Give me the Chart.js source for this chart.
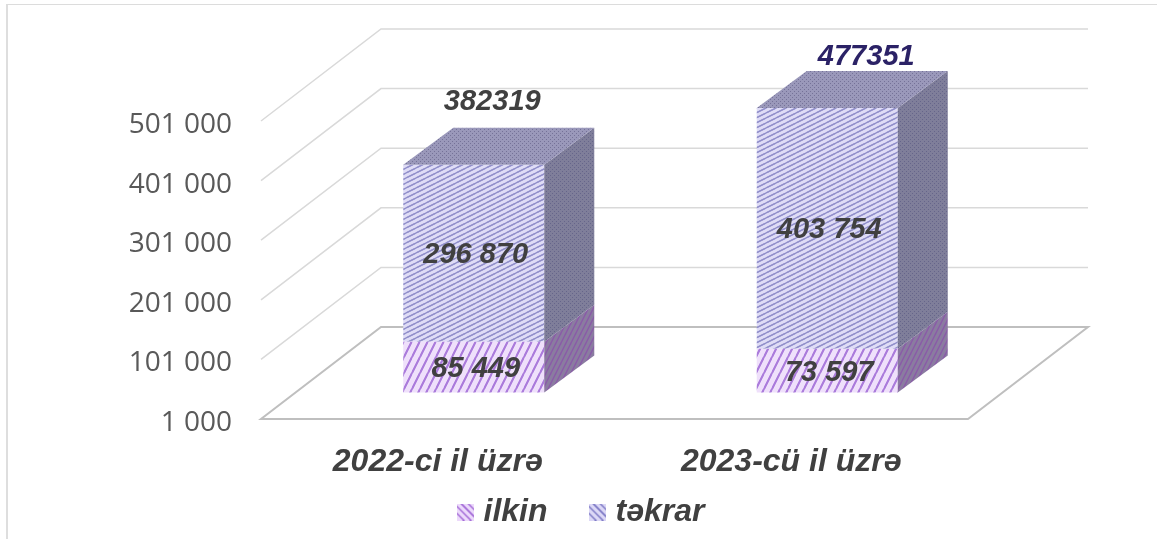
<!DOCTYPE html>
<html><head><meta charset="utf-8">
<style>html,body{margin:0;padding:0;background:#fff;overflow:hidden}
#wrap{position:absolute;left:0;top:0;width:1157px;height:539px;overflow:hidden}
#frame{position:absolute;left:6px;top:4px;width:1151px;height:540px;border-left:2px solid #dedede;border-top:1.5px solid #dcdcdc;box-sizing:border-box}
canvas{position:absolute;left:0;top:0}</style>
<script src="https://cdn.jsdelivr.net/npm/chart.js@4/dist/chart.umd.min.js"></script>
</head><body><div id="wrap"><div id="frame"></div><canvas id="c" width="1157" height="539"></canvas></div>
<script>
const categories = ["2022-ci il üzrə", "2023-cü il üzrə"];
const seriesNames = ["ilkin", "təkrar"];
const ilkin = [85449, 73597];
const tekrar = [296870, 403754];
const totals = [382319, 477351];
const yTicks = [1000, 101000, 201000, 301000, 401000, 501000];

const fmt = v => String(v).replace(/\B(?=(\d{3})+$)/g, " ");
function tile(w, h, bg, fg, lw, segs) {
  const c = document.createElement("canvas"); c.width = w; c.height = h;
  const g = c.getContext("2d"); g.fillStyle = bg; g.fillRect(0, 0, w, h);
  g.strokeStyle = fg; g.lineWidth = lw;
  segs.forEach(s => { g.beginPath(); g.moveTo(s[0], s[1]); g.lineTo(s[2], s[3]); g.stroke(); });
  return c;
}
function dots(w, h, bg, fg) {
  const c = document.createElement("canvas"); c.width = w; c.height = h;
  const g = c.getContext("2d"); g.fillStyle = bg; g.fillRect(0, 0, w, h);
  g.fillStyle = fg; g.fillRect(0, 0, 1, 1); g.fillRect(2, 2, 1, 1);
  return c;
}
const ctx0 = document.getElementById("c").getContext("2d");
const pat = (c) => ctx0.createPattern(c, "repeat");
const blueFront = pat(tile(10, 5, "#dfdcf6", "#9290cb", 1.3, [[-10,5,10,-5],[0,5,10,0],[-10,10,10,0],[0,10,20,0]]));
const pinkFront = pat(tile(8, 16, "#efe0fb", "#ab7bdb", 1.8, [[-8,16,8,-16],[0,16,8,0],[0,32,16,0],[-8,32,16,-16]]));
const blueTop = pat(dots(4, 4, "#9a98ba", "#757298"));
const blueSide = pat(dots(4, 4, "#7f7e9a", "#66658a"));
const pinkSide = pat(tile(5, 10, "#8a7ca0", "#8a5aa8", 1.4, [[-5,10,5,-10],[0,10,5,0],[0,20,10,0]]));
function swatch(bg, fg) {
  return tile(17, 17, bg, fg, 1.5, [[-3,0,17,20],[-10,0,10,20],[4,0,24,20],[-3,-7,17,13],[4,-7,24,13]]);
}
const swatches = [swatch("#ecd9fb", "#a46cd8"), swatch("#dcd8f6", "#7f7bc6")];

const WALL = {dx: 120, dy: -92}, DEPTH = {dx: 50, dy: -37}, SHIFT = {dx: 36, dy: -27};
const frontFont = "italic bold 29px 'Liberation Sans'";
const labelColor = "#404040";
const totalStyle = [{dx: 18.5, dy: -63, color: "#404040"}, {dx: 39, dy: -51, color: "#2b2266"}];
const legendAt = {x: 584, top: 448};
const tickNudge = 4;

function poly(ctx, pts, fill) {
  ctx.beginPath(); pts.forEach((p, i) => i ? ctx.lineTo(p[0], p[1]) : ctx.moveTo(p[0], p[1]));
  ctx.closePath(); ctx.fillStyle = fill; ctx.fill();
}
const box3d = {
  id: "box3d",
  beforeDatasetsDraw(chart) {
    const {ctx, chartArea: a, scales: {y}} = chart;
    ctx.save();
    ctx.lineWidth = 1.5; ctx.strokeStyle = "#d9d9d9";
    yTicks.slice(1).forEach(v => {
      const p = y.getPixelForValue(v);
      ctx.beginPath(); ctx.moveTo(a.left, p); ctx.lineTo(a.left + WALL.dx, p + WALL.dy);
      ctx.lineTo(a.right + WALL.dx, p + WALL.dy); ctx.stroke();
    });
    const b = y.getPixelForValue(yTicks[0]);
    ctx.lineWidth = 2; ctx.strokeStyle = "#bfbfbf";
    ctx.beginPath(); ctx.moveTo(a.left, b); ctx.lineTo(a.right, b);
    ctx.lineTo(a.right + WALL.dx, b + WALL.dy); ctx.lineTo(a.left + WALL.dx, b + WALL.dy);
    ctx.closePath(); ctx.stroke();
    ctx.restore();
    ctx.save(); ctx.translate(SHIFT.dx, SHIFT.dy);
  },
  afterDatasetsDraw(chart) {
    const {ctx} = chart;
    const sides = [pinkSide, blueSide];
    chart.data.datasets.forEach((ds, di) => {
      chart.getDatasetMeta(di).data.forEach((el) => {
        const {x, y, base, width} = el.getProps(["x", "y", "base", "width"], true);
        const r = x + width / 2, l = x - width / 2;
        poly(ctx, [[r, y], [r + DEPTH.dx, y + DEPTH.dy], [r + DEPTH.dx, base + DEPTH.dy], [r, base]], sides[di]);
        if (di === chart.data.datasets.length - 1)
          poly(ctx, [[l, y], [l + DEPTH.dx, y + DEPTH.dy], [r + DEPTH.dx, y + DEPTH.dy], [r, y]], blueTop);
      });
    });
    ctx.restore();
    ctx.save();
    ctx.font = frontFont; ctx.textAlign = "center"; ctx.textBaseline = "middle";
    chart.data.datasets.forEach((ds, di) => {
      chart.getDatasetMeta(di).data.forEach((el, i) => {
        const {x, y, base} = el.getProps(["x", "y", "base"], true);
        ctx.fillStyle = labelColor;
        ctx.fillText(fmt(ds.data[i]), x + SHIFT.dx + 2, (y + base) / 2 + SHIFT.dy + 2);
        if (di === chart.data.datasets.length - 1) {
          const t = totalStyle[i];
          ctx.fillStyle = t.color;
          ctx.fillText(String(totals[i]), x + SHIFT.dx + t.dx, y + SHIFT.dy + t.dy);
        }
      });
    });
    ctx.restore();
  },
  afterLayout(chart) {
    const lg = chart.legend, dx = legendAt.x - (lg.left + lg.right) / 2, h = lg.bottom - lg.top;
    lg.left += dx; lg.right += dx; lg.top = legendAt.top; lg.bottom = legendAt.top + h;
    chart.scales.y.getLabelItems(chart.chartArea).forEach(it => { it.textOffset += tickNudge; });
  }
};

new Chart(document.getElementById("c"), {
  type: "bar",
  data: {labels: categories, datasets: [
    {label: seriesNames[0], data: ilkin, backgroundColor: pinkFront, stack: "s", clip: false},
    {label: seriesNames[1], data: tekrar, backgroundColor: blueFront, stack: "s", clip: false}
  ]},
  plugins: [box3d],
  options: {
    responsive: false, animation: false, events: [],
    layout: {padding: {left: 0, right: 189, top: 121, bottom: -40}},
    datasets: {bar: {categoryPercentage: 1, barPercentage: 0.399}},
    plugins: {
      tooltip: {enabled: false},
      legend: {position: "bottom", labels: {
        usePointStyle: true, pointStyleWidth: 4, boxHeight: 17, padding: 48,
        color: labelColor, font: {family: "'Liberation Sans'", size: 32, weight: "bold", style: "italic"},
        generateLabels: chart => seriesNames.map((n, i) => ({text: n, pointStyle: swatches[i], datasetIndex: i, fontColor: labelColor, lineWidth: 0}))
      }}
    },
    scales: {
      x: {stacked: true, grid: {display: false}, border: {display: false},
        afterFit: s => { s.height = 70; },
        ticks: {padding: 16, maxRotation: 0, autoSkip: false, color: labelColor,
          font: {family: "'Liberation Sans'", size: 32, weight: "bold", style: "italic"}}},
      y: {stacked: true, min: yTicks[0], max: yTicks[yTicks.length - 1],
        grid: {display: false}, border: {display: false},
        afterBuildTicks: s => { s.ticks = yTicks.map(value => ({value})); },
        afterFit: s => { s.width = 261; },
        ticks: {padding: 21, color: "#595959", callback: v => fmt(v),
          font: {family: "'Open Sans'", size: 28}}}
    }
  }
});
</script></body></html>
